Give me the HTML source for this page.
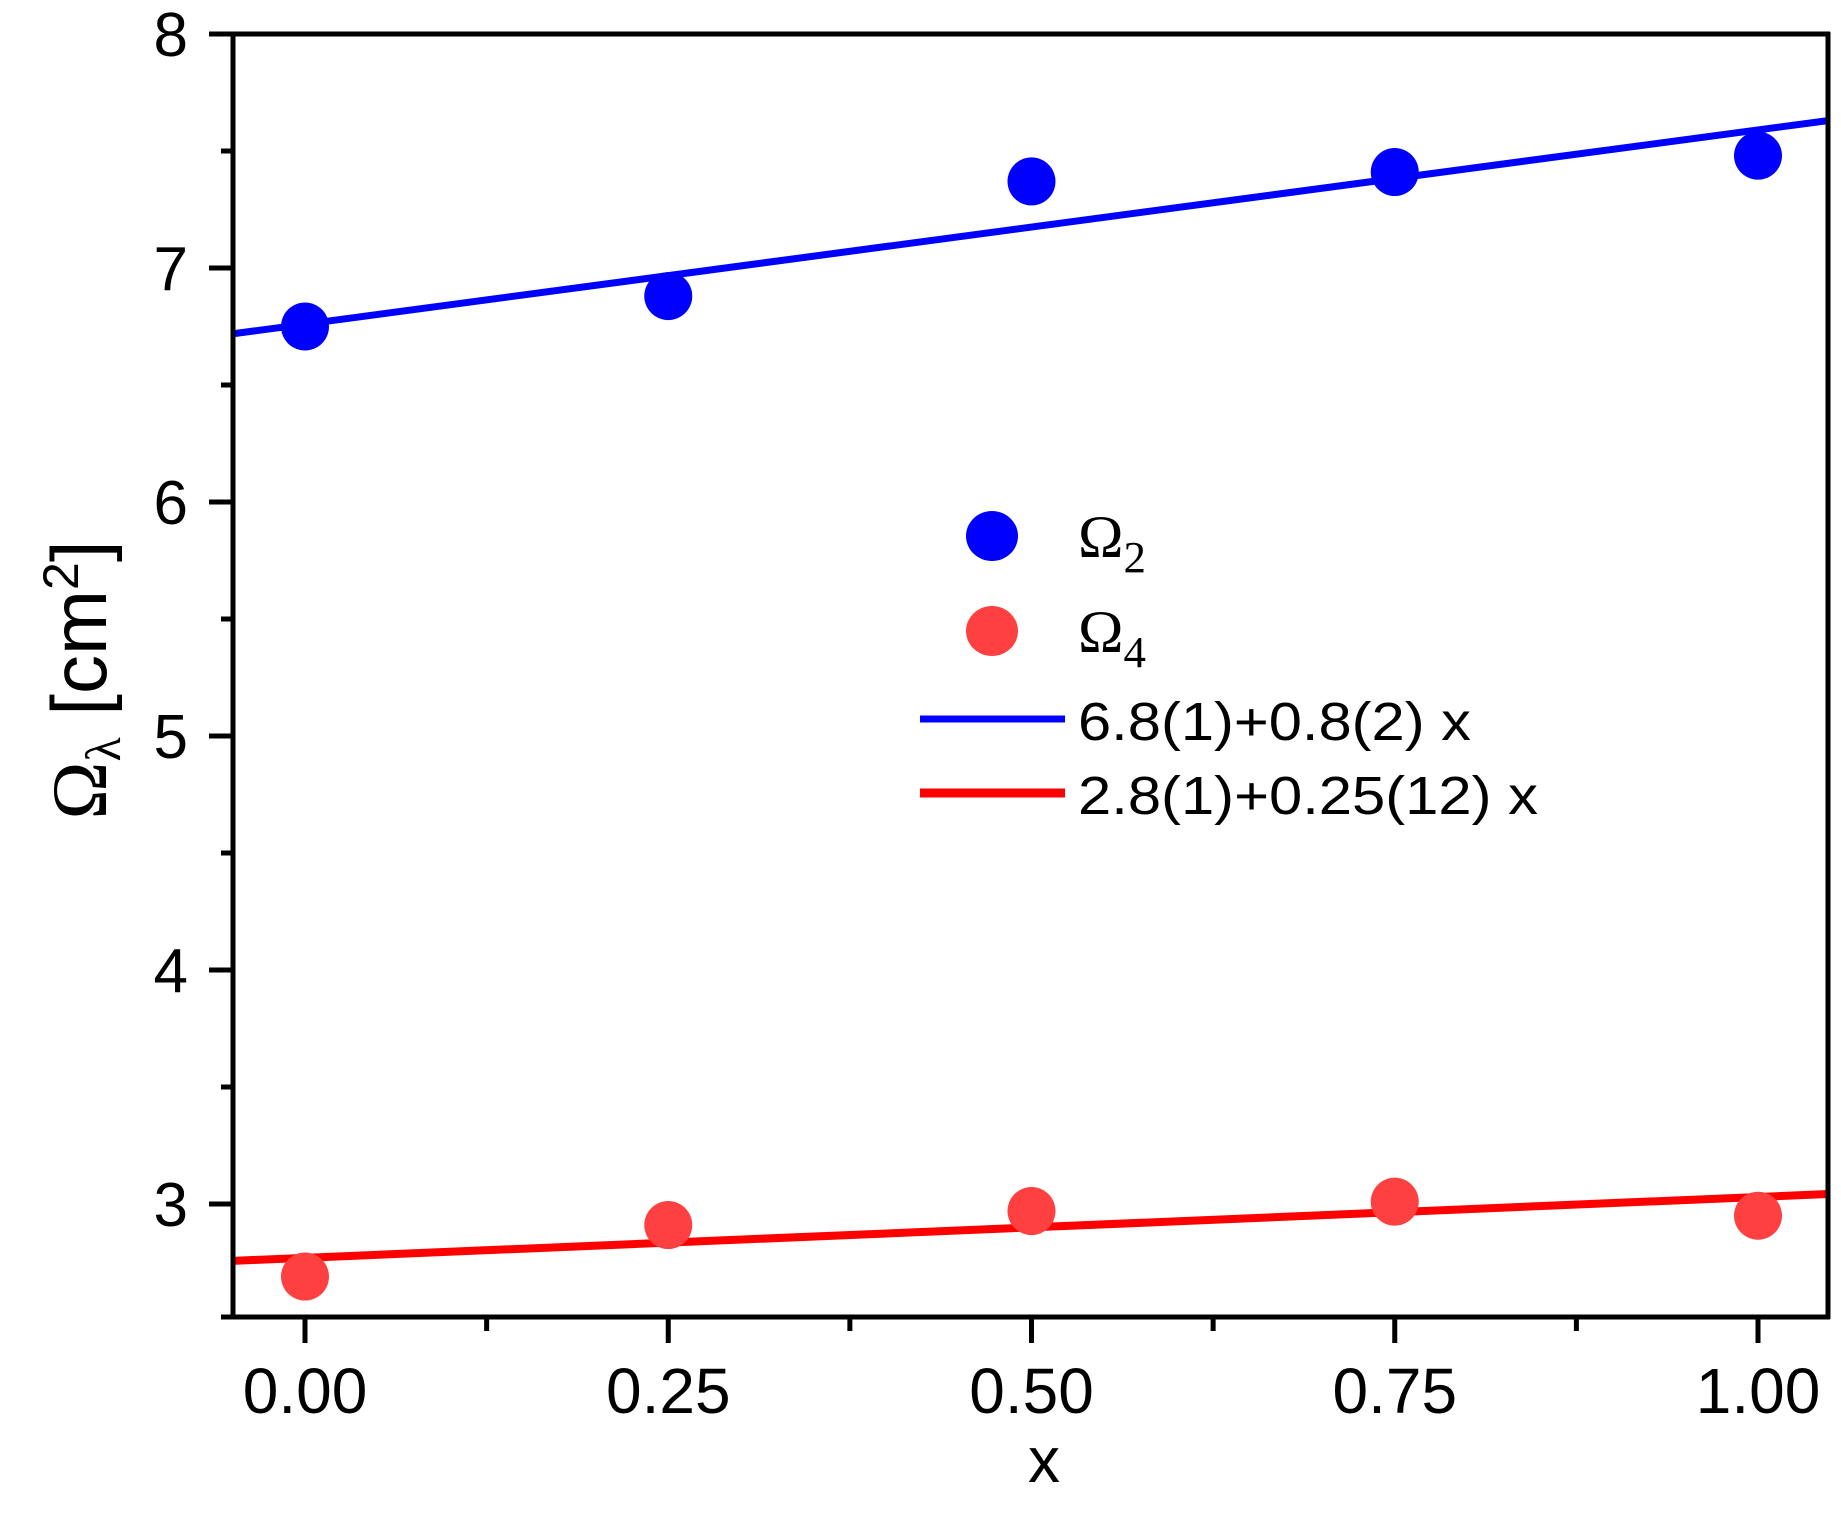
<!DOCTYPE html>
<html><head><meta charset="utf-8"><style>
html,body{margin:0;padding:0;background:#fff;}
svg{display:block;}
text{font-family:"Liberation Sans",sans-serif;fill:#000;}
</style></head><body>
<svg id="chart" width="1841" height="1521" viewBox="0 0 1841 1521" xmlns="http://www.w3.org/2000/svg">
<rect x="0" y="0" width="1841" height="1521" fill="#fff"/>
<g id="plot"></g>
<g id="legend">
  <ellipse cx="992" cy="536" rx="26" ry="25" fill="#0000ff"/>
  <text x="1078" y="557" font-size="60" textLength="68" lengthAdjust="spacingAndGlyphs" style="font-family:'Liberation Serif',serif">Ω<tspan font-size="44" dy="15">2</tspan></text>
  <ellipse cx="992" cy="631" rx="26" ry="25" fill="#ff4040"/>
  <text x="1078" y="652" font-size="60" textLength="68" lengthAdjust="spacingAndGlyphs" style="font-family:'Liberation Serif',serif">Ω<tspan font-size="44" dy="15">4</tspan></text>
  <line x1="920" y1="719" x2="1065" y2="719" stroke="#0000ff" stroke-width="7"/>
  <text x="1078" y="740" font-size="54" textLength="393" lengthAdjust="spacingAndGlyphs">6.8(1)+0.8(2) x</text>
  <line x1="920" y1="793" x2="1065" y2="793" stroke="#ff0000" stroke-width="9"/>
  <text x="1078" y="814" font-size="54" textLength="460" lengthAdjust="spacingAndGlyphs">2.8(1)+0.25(12) x</text>
</g>
<text x="1044" y="1482" font-size="64" text-anchor="middle">x</text>
<text transform="translate(106,680) rotate(-90)" font-size="78" text-anchor="middle"><tspan style="font-family:'Liberation Serif',serif">Ω</tspan><tspan font-size="50" dy="14" style="font-family:'Liberation Serif',serif">λ</tspan><tspan dy="-14"> [cm</tspan><tspan font-size="50" dy="-28">2</tspan><tspan dy="28">]</tspan></text>
</svg>
<script>
const xs = [0, 0.25, 0.5, 0.75, 1.0];
const omega2 = [6.75, 6.88, 7.37, 7.41, 7.48];
const omega4 = [2.69, 2.91, 2.97, 3.01, 2.95];
const fitBlue = [6.76, 0.83];
const fitRed = [2.77, 0.26];
const xTicks = [0, 0.25, 0.5, 0.75, 1.0];
const xTickLabels = ["0.00", "0.25", "0.50", "0.75", "1.00"];
const yTicks = [3, 4, 5, 6, 7, 8];
const yTickLabels = ["3", "4", "5", "6", "7", "8"];

const X0 = 305, XU = 1453, Y8 = 34, YU = 234;
const L = 233, R = 1828, T = 34, B = 1317;
const xMin = (L - X0) / XU, xMax = (R - X0) / XU;
function sx(v){ return X0 + v * XU; }
function sy(v){ return Y8 + (8 - v) * YU; }
const NS = "http://www.w3.org/2000/svg";
const g = document.getElementById('plot');
function mk(tag, attrs){ const e = document.createElementNS(NS, tag); for (const k in attrs) e.setAttribute(k, attrs[k]); g.appendChild(e); return e; }

const defs = document.createElementNS(NS,'defs');
defs.innerHTML = '<clipPath id="clip"><rect x="'+L+'" y="'+T+'" width="'+(R-L)+'" height="'+(B-T)+'"/></clipPath>';
g.appendChild(defs);

[[fitBlue,'#0000ff',7,'fit-line-omega2'],[fitRed,'#ff0000',8,'fit-line-omega4']].forEach(f=>{
  const e = mk('line',{x1:sx(xMin),y1:sy(f[0][0]+f[0][1]*xMin),x2:sx(xMax),y2:sy(f[0][0]+f[0][1]*xMax),stroke:f[1],'stroke-width':f[2],'clip-path':'url(#clip)'});
  
  
});
xs.forEach((x,i)=>{
  const a = mk('circle',{cx:sx(x),cy:sy(omega2[i]),r:24,fill:'#0000ff'});
  
  
  const b = mk('circle',{cx:sx(x),cy:sy(omega4[i]),r:24,fill:'#ff4040'});
  
  
});

const ax = [
  ['x-axis-line',{x1:221,y1:B,x2:R+2,y2:B}],
  ['y-axis-line',{x1:L,y1:T-2,x2:L,y2:B+2}],
  ['top-axis-line',{x1:209,y1:T,x2:R+2,y2:T}],
  ['right-axis-line',{x1:R,y1:T-2,x2:R,y2:B+2}]
];
ax.forEach(a=>{
  const e = mk('line',Object.assign({stroke:'#000','stroke-width':5},a[1]));
  
  
});

xTicks.forEach((v,i)=>{
  const t = mk('line',{x1:sx(v),y1:B,x2:sx(v),y2:B+26,stroke:'#000','stroke-width':5});
  
  
  const m = v + 0.125;
  if (m < xMax) {
    const mt = mk('line',{x1:sx(m),y1:B,x2:sx(m),y2:B+14,stroke:'#000','stroke-width':5});
    
    
  }
  const lb = mk('text',{x:sx(v),y:1413,'font-size':64,'text-anchor':'middle'});
  lb.textContent = xTickLabels[i];
  
  
});
yTicks.forEach((v,i)=>{
  const t = mk('line',{x1:L-24,y1:sy(v),x2:L,y2:sy(v),stroke:'#000','stroke-width':5});
  
  
  const m = v - 0.5;
  if (sy(m) < B) {
    const mt = mk('line',{x1:L-12,y1:sy(m),x2:L,y2:sy(m),stroke:'#000','stroke-width':5});
    
    
  }
  const lb = mk('text',{x:188,y:sy(v)+22,'font-size':62,'text-anchor':'end'});
  lb.textContent = yTickLabels[i];
  
  
});
</script>
</body></html>
